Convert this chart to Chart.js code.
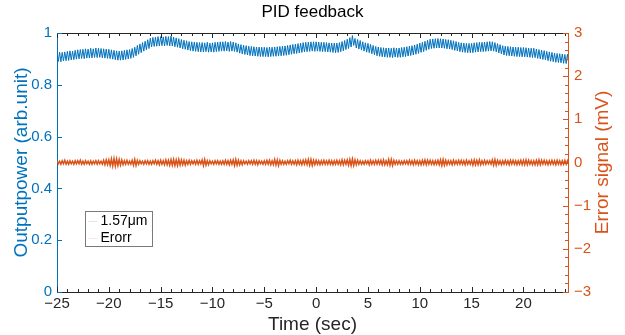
<!DOCTYPE html>
<html>
<head>
<meta charset="utf-8">
<script src="https://cdn.jsdelivr.net/npm/chart.js@4.4.0/dist/chart.umd.min.js"></script>
<style>
  html, body { margin: 0; padding: 0; background: #fff; }
  canvas { display: block; }
</style>
</head>
<body>
<canvas id="myChart" width="625" height="335"></canvas>
<script>
// sampling of the trace (sec)
const timeStart = -25;
const timeStep = 0.125;

// output power (arb.unit), one row per second, 8 samples each
const outputPower = [
  0.924, 0.890, 0.926, 0.889, 0.925, 0.892, 0.927, 0.893,
  0.929, 0.894, 0.931, 0.896, 0.930, 0.897, 0.933, 0.899,
  0.935, 0.900, 0.936, 0.902, 0.937, 0.901, 0.939, 0.903,
  0.938, 0.903, 0.941, 0.904, 0.939, 0.906, 0.942, 0.905,
  0.941, 0.906, 0.940, 0.904, 0.939, 0.903, 0.938, 0.902,
  0.937, 0.901, 0.935, 0.899, 0.933, 0.897, 0.931, 0.895,
  0.930, 0.895, 0.931, 0.896, 0.933, 0.898, 0.935, 0.900,
  0.936, 0.902, 0.940, 0.906, 0.945, 0.912, 0.952, 0.918,
  0.958, 0.924, 0.963, 0.930, 0.968, 0.935, 0.974, 0.940,
  0.980, 0.946, 0.983, 0.948, 0.984, 0.949, 0.986, 0.950,
  0.986, 0.951, 0.985, 0.950, 0.987, 0.952, 0.986, 0.950,
  0.988, 0.950, 0.984, 0.947, 0.981, 0.945, 0.978, 0.942,
  0.975, 0.939, 0.972, 0.937, 0.970, 0.934, 0.967, 0.932,
  0.966, 0.930, 0.965, 0.929, 0.964, 0.928, 0.963, 0.927,
  0.963, 0.927, 0.962, 0.928, 0.964, 0.926, 0.961, 0.927,
  0.962, 0.926, 0.964, 0.928, 0.965, 0.929, 0.966, 0.930,
  0.966, 0.930, 0.967, 0.931, 0.965, 0.929, 0.967, 0.930,
  0.965, 0.929, 0.962, 0.926, 0.958, 0.922, 0.955, 0.919,
  0.953, 0.917, 0.951, 0.915, 0.949, 0.913, 0.948, 0.912,
  0.947, 0.911, 0.946, 0.910, 0.946, 0.909, 0.945, 0.909,
  0.945, 0.909, 0.944, 0.908, 0.946, 0.909, 0.945, 0.910,
  0.946, 0.910, 0.947, 0.911, 0.948, 0.912, 0.949, 0.913,
  0.950, 0.914, 0.952, 0.916, 0.954, 0.918, 0.956, 0.920,
  0.957, 0.921, 0.959, 0.923, 0.961, 0.925, 0.963, 0.927,
  0.964, 0.928, 0.965, 0.929, 0.966, 0.930, 0.966, 0.929,
  0.966, 0.930, 0.965, 0.929, 0.964, 0.928, 0.964, 0.928,
  0.963, 0.927, 0.962, 0.926, 0.961, 0.925, 0.961, 0.924,
  0.961, 0.925, 0.963, 0.928, 0.967, 0.931, 0.971, 0.936,
  0.976, 0.940, 0.982, 0.946, 0.990, 0.952, 0.979, 0.942,
  0.975, 0.938, 0.971, 0.934, 0.966, 0.930, 0.962, 0.926,
  0.960, 0.924, 0.956, 0.920, 0.952, 0.916, 0.948, 0.912,
  0.946, 0.910, 0.944, 0.908, 0.943, 0.907, 0.942, 0.906,
  0.942, 0.906, 0.941, 0.905, 0.943, 0.907, 0.942, 0.906,
  0.942, 0.906, 0.944, 0.908, 0.945, 0.909, 0.947, 0.911,
  0.949, 0.913, 0.951, 0.915, 0.954, 0.918, 0.957, 0.921,
  0.961, 0.925, 0.964, 0.928, 0.968, 0.933, 0.972, 0.937,
  0.976, 0.940, 0.977, 0.941, 0.978, 0.942, 0.979, 0.942,
  0.978, 0.942, 0.977, 0.941, 0.975, 0.939, 0.974, 0.938,
  0.972, 0.936, 0.970, 0.933, 0.967, 0.931, 0.964, 0.928,
  0.962, 0.926, 0.961, 0.925, 0.960, 0.924, 0.960, 0.924,
  0.960, 0.924, 0.962, 0.926, 0.963, 0.927, 0.964, 0.928,
  0.964, 0.928, 0.965, 0.929, 0.966, 0.930, 0.967, 0.931,
  0.966, 0.930, 0.963, 0.927, 0.959, 0.923, 0.955, 0.919,
  0.951, 0.915, 0.949, 0.913, 0.948, 0.912, 0.947, 0.911,
  0.946, 0.910, 0.945, 0.909, 0.945, 0.909, 0.944, 0.908,
  0.944, 0.908, 0.943, 0.907, 0.942, 0.906, 0.941, 0.905,
  0.941, 0.905, 0.938, 0.902, 0.936, 0.900, 0.934, 0.898,
  0.932, 0.896, 0.929, 0.893, 0.927, 0.891, 0.925, 0.889,
  0.922, 0.887, 0.921, 0.886, 0.920, 0.885, 0.919, 0.883,
  0.917, 0.882, 0.918, 0.881
];

// error signal (mV), same sampling
const errorSignal = [
  0.04, -0.03, 0.03, -0.04, 0.04, -0.03, 0.05, -0.04,
  0.03, -0.04, 0.04, -0.03, 0.03, -0.04, 0.04, -0.03,
  0.04, -0.03, 0.05, -0.04, 0.03, -0.04, 0.04, -0.03,
  0.03, -0.04, 0.04, -0.04, 0.03, -0.03, 0.04, -0.04,
  0.04, -0.03, 0.03, -0.04, 0.05, -0.05, 0.06, -0.05,
  0.06, -0.07, 0.08, -0.08, 0.09, -0.08, 0.08, -0.07,
  0.07, -0.06, 0.06, -0.05, 0.04, -0.04, 0.05, -0.04,
  0.03, -0.04, 0.05, -0.06, 0.07, -0.07, 0.05, -0.04,
  0.04, -0.03, 0.03, -0.04, 0.04, -0.03, 0.04, -0.04,
  0.03, -0.04, 0.04, -0.03, 0.05, -0.04, 0.04, -0.05,
  0.05, -0.04, 0.04, -0.05, 0.06, -0.05, 0.05, -0.06,
  0.07, -0.06, 0.07, -0.07, 0.06, -0.07, 0.07, -0.06,
  0.06, -0.05, 0.05, -0.06, 0.04, -0.04, 0.05, -0.04,
  0.04, -0.03, 0.04, -0.04, 0.05, -0.04, 0.04, -0.03,
  0.06, -0.07, 0.07, -0.06, 0.04, -0.05, 0.04, -0.03,
  0.03, -0.04, 0.04, -0.03, 0.04, -0.04, 0.03, -0.04,
  0.04, -0.04, 0.05, -0.04, 0.04, -0.05, 0.05, -0.04,
  0.06, -0.07, 0.07, -0.06, 0.05, -0.05, 0.04, -0.05,
  0.04, -0.03, 0.03, -0.04, 0.04, -0.03, 0.04, -0.04,
  0.05, -0.04, 0.04, -0.05, 0.04, -0.03, 0.03, -0.04,
  0.04, -0.04, 0.05, -0.04, 0.05, -0.05, 0.04, -0.05,
  0.07, -0.06, 0.06, -0.07, 0.05, -0.04, 0.04, -0.04,
  0.03, -0.04, 0.04, -0.03, 0.05, -0.04, 0.04, -0.04,
  0.04, -0.05, 0.05, -0.04, 0.04, -0.05, 0.05, -0.04,
  0.06, -0.05, 0.07, -0.06, 0.07, -0.07, 0.05, -0.05,
  0.05, -0.04, 0.04, -0.05, 0.04, -0.04, 0.05, -0.04,
  0.04, -0.04, 0.05, -0.04, 0.04, -0.05, 0.04, -0.04,
  0.05, -0.04, 0.04, -0.05, 0.06, -0.05, 0.05, -0.04,
  0.06, -0.06, 0.07, -0.07, 0.08, -0.07, 0.06, -0.05,
  0.05, -0.04, 0.04, -0.04, 0.03, -0.04, 0.04, -0.03,
  0.04, -0.05, 0.05, -0.04, 0.04, -0.04, 0.05, -0.04,
  0.05, -0.04, 0.05, -0.05, 0.06, -0.05, 0.04, -0.05,
  0.07, -0.06, 0.07, -0.07, 0.05, -0.04, 0.04, -0.04,
  0.04, -0.04, 0.03, -0.04, 0.04, -0.03, 0.04, -0.04,
  0.05, -0.04, 0.04, -0.05, 0.05, -0.04, 0.04, -0.05,
  0.04, -0.05, 0.05, -0.04, 0.06, -0.05, 0.05, -0.04,
  0.05, -0.04, 0.04, -0.05, 0.04, -0.04, 0.05, -0.05,
  0.06, -0.07, 0.07, -0.06, 0.05, -0.05, 0.04, -0.04,
  0.04, -0.05, 0.05, -0.04, 0.04, -0.04, 0.05, -0.04,
  0.05, -0.04, 0.04, -0.05, 0.05, -0.04, 0.04, -0.04,
  0.05, -0.06, 0.06, -0.05, 0.05, -0.05, 0.06, -0.05,
  0.04, -0.04, 0.05, -0.04, 0.04, -0.03, 0.04, -0.04,
  0.06, -0.06, 0.07, -0.06, 0.05, -0.04, 0.04, -0.05,
  0.04, -0.04, 0.05, -0.04, 0.04, -0.05, 0.05, -0.04,
  0.05, -0.04, 0.04, -0.05, 0.04, -0.04, 0.05, -0.05,
  0.05, -0.05, 0.06, -0.05, 0.05, -0.04, 0.04, -0.05,
  0.04, -0.05, 0.05, -0.05, 0.06, -0.05, 0.05, -0.04,
  0.05, -0.04, 0.04, -0.05, 0.04, -0.04, 0.05, -0.04,
  0.04, -0.05, 0.05, -0.04, 0.04, -0.05, 0.04, -0.04,
  0.05, -0.04, 0.04, -0.05
];

const timeTicks = [-25, -20, -15, -10, -5, 0, 5, 10, 15, 20];
const powerTicks = [0, 0.2, 0.4, 0.6, 0.8, 1];
const errorTicks = [-3, -2, -1, 0, 1, 2, 3];

const BLUE = "#0072BD";
const ORANGE = "#D95319";
const DARK = "#262626";
const FONT = "'Liberation Sans', Arial, sans-serif";

const minusSign = (v) => String(v).replace("-", "\u2212");

const toPoints = (values) => values.map((v, i) => ({ x: timeStart + i * timeStep, y: v }));

// inward tick marks (MATLAB style), top box line, right label, legend
const axisTicks = {
  id: "axisTicks",
  afterDatasetsDraw(chart) {
    const { ctx, chartArea: a, scales } = chart;
    ctx.save();
    ctx.lineWidth = 1;

    ctx.strokeStyle = DARK;
    ctx.beginPath();
    for (let t = -25; t <= 24; t++) {
      const px = Math.round(scales.x.getPixelForValue(t)) + 0.5;
      const len = t % 5 === 0 ? 5 : 3;
      ctx.moveTo(px, a.bottom);
      ctx.lineTo(px, a.bottom - len);
      ctx.moveTo(px, a.top);
      ctx.lineTo(px, a.top + len);
    }
    const top = Math.round(a.top) + 0.5;
    ctx.moveTo(a.left, top);
    ctx.lineTo(a.right, top);
    ctx.stroke();

    ctx.strokeStyle = BLUE;
    ctx.beginPath();
    powerTicks.forEach((v) => {
      const py = Math.round(scales.yPower.getPixelForValue(v)) + 0.5;
      ctx.moveTo(a.left, py);
      ctx.lineTo(a.left + 5, py);
    });
    ctx.stroke();

    ctx.strokeStyle = ORANGE;
    ctx.beginPath();
    for (let k = -15; k <= 15; k++) {
      const py = Math.round(scales.yError.getPixelForValue(k / 5)) + 0.5;
      const len = k % 5 === 0 ? 5 : 3;
      ctx.moveTo(a.right, py);
      ctx.lineTo(a.right - len, py);
    }
    ctx.stroke();
    ctx.restore();
  },
  afterDraw(chart) {
    const { ctx, chartArea: a } = chart;
    const scale = chart.scales.yError;
    // right y-axis title, reading bottom to top
    ctx.save();
    ctx.fillStyle = ORANGE;
    ctx.font = `19px ${FONT}`;
    ctx.textAlign = "center";
    ctx.textBaseline = "middle";
    ctx.translate(603, (a.top + a.bottom) / 2);
    ctx.rotate(-Math.PI / 2);
    ctx.fillText(scale.options.title.text, 0, 0);
    ctx.restore();

    // legend box
    const box = { x: 85.5, y: 211.5, w: 67, h: 35 };
    ctx.save();
    ctx.fillStyle = "#fff";
    ctx.fillRect(box.x, box.y, box.w, box.h);
    ctx.strokeStyle = "#7a7a7a";
    ctx.lineWidth = 1;
    ctx.strokeRect(box.x, box.y, box.w, box.h);
    ctx.font = `14px ${FONT}`;
    ctx.textBaseline = "middle";
    ctx.textAlign = "left";
    const sampleColors = ["rgba(0,114,189,0.15)", "rgba(217,83,25,0.15)"];
    chart.data.datasets.forEach((ds, i) => {
      const cy = box.y + 10 + i * 17;
      ctx.strokeStyle = sampleColors[i];
      ctx.beginPath();
      ctx.moveTo(box.x + 3, cy);
      ctx.lineTo(box.x + 12, cy);
      ctx.stroke();
      ctx.fillStyle = "#000";
      ctx.fillText(ds.label, box.x + 15, cy);
    });
    ctx.restore();
  },
};

const ctx = document.querySelector("canvas#myChart").getContext("2d");
const myChart = new Chart(ctx, {
  type: "line",
  data: {
    datasets: [
      {
        label: "1.57\u03bcm",
        data: toPoints(outputPower),
        borderColor: BLUE,
        borderWidth: 1,
        pointRadius: 0,
        tension: 0,
        yAxisID: "yPower",
      },
      {
        label: "Erorr",
        data: toPoints(errorSignal),
        borderColor: ORANGE,
        borderWidth: 1.5,
        pointRadius: 0,
        tension: 0,
        yAxisID: "yError",
      },
    ],
  },
  options: {
    responsive: false,
    animation: false,
    devicePixelRatio: 1,
    layout: { padding: 0 },
    plugins: {
      legend: { display: false },
      tooltip: { enabled: false },
      title: {
        display: true,
        text: "PID feedback",
        color: "#000",
        font: { family: FONT, size: 17, weight: "normal", lineHeight: 1.2 },
        padding: { top: 2, bottom: 10.6 },
      },
    },
    scales: {
      x: {
        type: "linear",
        min: -25,
        max: 24.3,
        afterBuildTicks: (s) => {
          s.ticks = timeTicks.map((v) => ({ value: v }));
        },
        afterFit: (s) => {
          s.height = 43;
        },
        grid: { display: false, drawTicks: false },
        border: { color: DARK, width: 1 },
        ticks: {
          color: DARK,
          font: { family: FONT, size: 15 },
          padding: 3,
          maxRotation: 0,
          autoSkip: false,
          callback: (v) => minusSign(v),
        },
        title: {
          display: true,
          text: "Time (sec)",
          color: DARK,
          font: { family: FONT, size: 19, lineHeight: 1 },
          padding: { top: 0, bottom: 0.5 },
        },
      },
      yPower: {
        type: "linear",
        position: "left",
        min: 0,
        max: 1,
        afterBuildTicks: (s) => {
          s.ticks = powerTicks.map((v) => ({ value: v }));
        },
        afterFit: (s) => {
          s.width = 57;
        },
        grid: { display: false, drawTicks: false },
        border: { color: BLUE, width: 1 },
        ticks: {
          color: BLUE,
          font: { family: FONT, size: 15 },
          padding: 5,
          callback: (v) => minusSign(v),
        },
        title: {
          display: true,
          text: "Outputpower (arb.unit)",
          color: BLUE,
          font: { family: FONT, size: 19, lineHeight: 1 },
          padding: { top: 12.5, bottom: 0 },
        },
      },
      yError: {
        type: "linear",
        position: "right",
        min: -3,
        max: 3,
        afterBuildTicks: (s) => {
          s.ticks = errorTicks.map((v) => ({ value: v }));
        },
        afterFit: (s) => {
          s.width = 57;
        },
        grid: { display: false, drawTicks: false },
        border: { color: ORANGE, width: 1 },
        ticks: {
          color: ORANGE,
          font: { family: FONT, size: 15 },
          padding: 6,
          callback: (v) => minusSign(v),
        },
        title: { display: false, text: "Error signal (mV)" },
      },
    },
  },
  plugins: [axisTicks],
});
</script>
</body>
</html>
